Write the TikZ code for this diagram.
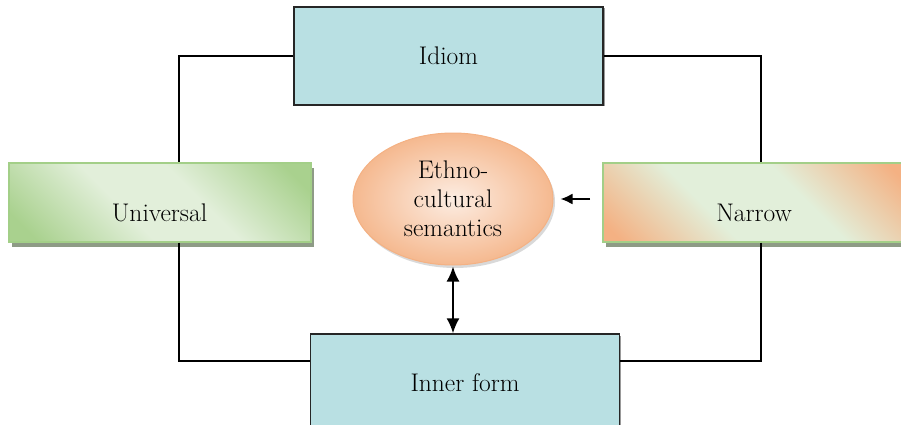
\documentclass[tikz,border=0pt]{standalone}
\usepackage{fontspec}
\usetikzlibrary{shadows,shapes.geometric,arrows.meta}

\definecolor{boxblue}{HTML}{B9E0E3}
\definecolor{lgreen}{HTML}{E2EFDA}
\definecolor{mgreen}{HTML}{A9D18E}
\definecolor{gborder}{HTML}{A3CF88}
\definecolor{peach}{HTML}{F4B183}
\definecolor{lpeach}{HTML}{FBE5D6}
\definecolor{gshadow}{HTML}{8E9B86}

\pgfdeclarehorizontalshading{univshade}{100bp}{color(0bp)=(mgreen); color(20bp)=(mgreen);
  color(42bp)=(lgreen); color(58bp)=(lgreen); color(80bp)=(mgreen); color(100bp)=(mgreen)}
\pgfdeclarehorizontalshading{narrowshade}{100bp}{color(0bp)=(peach); color(18bp)=(peach);
  color(40bp)=(lgreen); color(60bp)=(lgreen); color(82bp)=(peach); color(100bp)=(peach)}

\begin{document}
\begin{tikzpicture}[x=1pt,y=-1pt,>={Latex[length=15pt,width=13pt]},
	every node/.style={font=\fontsize{25.5}{29}\selectfont},
	bluebox/.style={draw=black!85,line width=1.3pt,fill=boxblue,minimum width=309pt,minimum height=98pt,
		drop shadow={shadow xshift=1.5pt,shadow yshift=-1.5pt,fill=black!40,opacity=1}},
	greenbox/.style={draw=gborder,line width=2pt,minimum width=302pt,minimum height=79pt,shading angle=45,
		drop shadow={shadow xshift=3pt,shadow yshift=-5pt,fill=gshadow,opacity=1}},
	ethnostyle/.style={ellipse,draw=peach,line width=1pt,inner color=lpeach!70!white,outer color=peach!85!lpeach,
		minimum width=200pt,minimum height=132pt,align=center,
		drop shadow={shadow xshift=2pt,shadow yshift=-3pt,fill=black!25,opacity=0.6}},
	link/.style={line width=1.3pt}]

	\useasboundingbox (0,0) rectangle (901,425);

	\node[bluebox] (idiom) at (448.5,56) {Idiom};
	\node[bluebox] (inner) at (465,383) {Inner form};
	\node[greenbox,shading=univshade,label={[yshift=-11pt]center:Universal}] (univ) at (159.5,202) {};
	\node[greenbox,shading=narrowshade,label={[yshift=-11pt]center:Narrow}] (narrow) at (754,202) {};
	\node[ethnostyle] (ethno) at (453,199) {Ethno-\\cultural\\semantics};

	\coordinate (lx) at (179,0);
	\coordinate (rx) at (761,0);
	\coordinate (by) at (0,361);

	\draw[link] (idiom.west) -| (lx |- univ.north);
	\draw[link] (lx |- univ.south) |- (inner.west |- by);
	\draw[link] (idiom.east) -| (rx |- narrow.north);
	\draw[link] (rx |- narrow.south) |- (inner.east |- by);

	\draw[-{Latex[length=12pt,width=11pt]},line width=2pt] ([xshift=-12pt]ethno.east -| narrow.west) -- ([xshift=7pt]ethno.east);
	\draw[<->,line width=2pt] ([yshift=-1pt]ethno.south) -- (ethno.south |- inner.north);

\end{tikzpicture}
\end{document}
